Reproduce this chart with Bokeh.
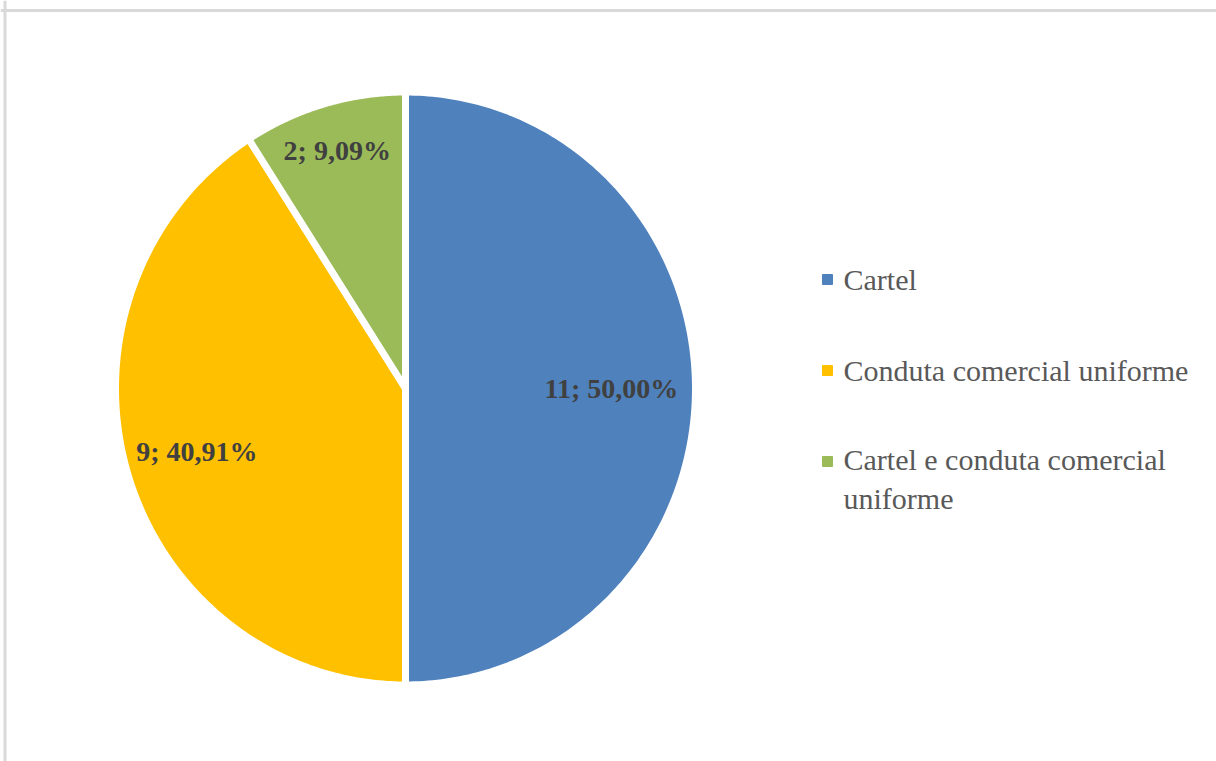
import math
import textwrap
import numpy as np
from bokeh.plotting import figure
from bokeh.models import Range1d, Span, ColumnDataSource
from bokeh.core.properties import value
from bokeh.embed import file_html
from bokeh.resources import INLINE

# ---- data ----
categories = ["Cartel", "Conduta comercial uniforme", "Cartel e conduta comercial uniforme"]
counts = [11, 9, 2]
colors = ["#4F81BD", "#FFC000", "#9BBB59"]
label_radius_frac = [0.71, 0.75, 0.835]

FONT = value("'Liberation Serif', 'DejaVu Serif', serif")

W, H = 1216, 761
p = figure(width=W, height=H, x_range=Range1d(0, W), y_range=Range1d(0, H),
           output_backend="svg", toolbar_location=None, min_border=0)
p.axis.visible = False
p.grid.visible = False
p.outline_line_color = None
p.background_fill_color = "white"
p.border_fill_color = "white"

# frame lines (top and left), like the reference's chart border
p.add_layout(Span(location=751, dimension="width", line_color="#d9d9d9", line_width=3))
p.add_layout(Span(location=4.5, dimension="height", line_color="#d9d9d9", line_width=3))

# pie (slightly elliptical as in the reference), built from the counts
cx, cy, RX, RY = 405, 373, 290, 296.5
total = sum(counts)
xs, ys, lx, ly, texts = [], [], [], [], []
cum = 0
for v, f in zip(counts, label_radius_frac):
    a0 = math.pi / 2 - 2 * math.pi * cum / total
    cum += v
    a1 = math.pi / 2 - 2 * math.pi * cum / total
    t = np.linspace(a0, a1, 200)
    xs.append([cx] + list(cx + RX * np.cos(t)))
    ys.append([cy] + list(cy + RY * np.sin(t)))
    mid = (a0 + a1) / 2
    lx.append(cx + f * RX * math.cos(mid))
    ly.append(cy + f * RY * math.sin(mid))
    texts.append(f"{v}; {100 * v / total:.2f}%".replace(".", ","))

src = ColumnDataSource(dict(xs=xs, ys=ys, color=colors, cat=categories,
                            lx=lx, ly=ly, txt=texts))
p.patches(xs="xs", ys="ys", fill_color="color", line_color="white", line_width=7,
          line_join="miter", source=src)
p.text(x="lx", y="ly", text="txt", source=src, text_font=FONT,
       text_font_style="bold", text_font_size="28px", text_color="#404040",
       text_align="center", text_baseline="middle")

# ---- legend (manual) ----
line_h = 35
row_y = [482, 391, 300]
wrapped = [textwrap.fill(c, 26) for c in categories]
nlines = [w.count("\n") + 1 for w in wrapped]
text_y = [y - (n - 1) * line_h / 2 for y, n in zip(row_y, nlines)]
lsrc = ColumnDataSource(dict(x=[827] * 3, y=row_y, ty=text_y, color=colors, lab=wrapped))
p.scatter(x="x", y="y", marker="square", size=10, fill_color="color", line_color="color", source=lsrc)
p.text(x=843, y="ty", text="lab", source=lsrc, text_font=FONT,
       text_font_size="30px", text_color="#595959", text_align="left",
       text_baseline="middle", text_line_height=line_h / 30)

open("out.html", "w").write(file_html(p, INLINE))
